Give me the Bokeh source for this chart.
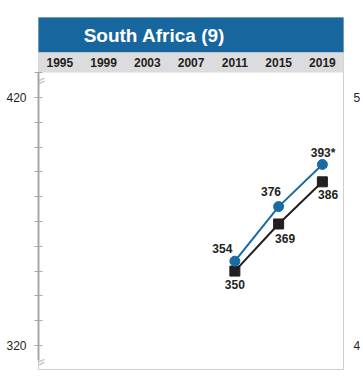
from bokeh.plotting import figure
from bokeh.models import Range1d, LinearAxis, FixedTicker, ColumnDataSource
from bokeh.embed import file_html
from bokeh.resources import INLINE
from bokeh.core.properties import value

# ---- data ----
title_text = "South Africa (9)"
years = [1995, 1999, 2003, 2007, 2011, 2015, 2019]
year_labels = ["1995", "1999", "2003", "2007", "2011", "2015", "2019"]
pt_years = [2011, 2015, 2019]
blue_vals = [354, 376, 393]
blue_labels = ["354", "376", "393*"]
black_vals = [350, 369, 386]
black_labels = ["350", "369", "386"]
y_ticks = [320, 330, 340, 350, 360, 370, 380, 390, 400, 410, 420, 430]
y_tick_text = {420: "420", 320: "320"}
right_tick_text = {420: "5", 320: "4"}   # clipped labels of the neighbouring panel

BLUE = "#1a6aa3"
HEAD = "#17679e"
BAND = "#dcdcde"
DARK = "#231f20"
FONT = "Liberation Sans"

x0, x1 = 1993.05, 2020.93
y0, y1 = 310.32, 452.26
head_bot, band_bot = 438.15, 430.08
PX_X = 11.05   # pixels per year
PX_Y = 2.48    # pixels per score point

p = figure(width=363, height=383, output_backend="svg", toolbar_location=None,
           x_range=Range1d(x0, x1), y_range=Range1d(y0, y1),
           x_axis_location=None, y_axis_location=None,
           min_border_left=38, min_border_right=17, min_border_top=17, min_border_bottom=14)
p.grid.visible = False
p.outline_line_color = "#cfcfcf"
p.outline_line_width = 1
p.background_fill_color = "white"
p.border_fill_color = "white"

# header and year band
p.quad(left=[1985], right=[2030], bottom=[head_bot], top=[460], fill_color=HEAD, line_color=None)
p.quad(left=[1985], right=[2030], bottom=[band_bot], top=[head_bot], fill_color=BAND, line_color=None)
p.text(x=[2003.64], y=[445.2], text=[title_text], text_color="white", text_font=value(FONT),
       text_font_size="19px", text_font_style="bold", text_align="center", text_baseline="middle")
p.text(x=years, y=[434.1] * len(years), text=year_labels, text_color=DARK, text_font=value(FONT),
       text_font_size="12px", text_font_style="bold", text_align="center", text_baseline="middle")

# axis break marks (offsets in pixels from the frame's left edge)
def brk(yc):
    xs, ys = [], []
    for off in (-1.5, 1.5):
        xs.append([x0 - 7 / PX_X, x0 + 6 / PX_X])
        ys.append([yc + (3 - off) / PX_Y, yc + (-3 - off) / PX_Y][::-1])
    return xs, ys
for yc in (426.0, 312.6):
    xs, ys = brk(yc)
    p.multi_line(xs=xs, ys=ys, line_color="#c8c8c8", line_width=1.5)

# y axis
yaxis = LinearAxis(ticker=FixedTicker(ticks=y_ticks), bounds=(313.9, 430),
                   major_label_overrides={t: y_tick_text.get(t, "") for t in y_ticks})
yaxis.axis_line_color = "#a8a8a8"
yaxis.axis_line_width = 2
yaxis.major_tick_line_color = "#a8a8a8"
yaxis.major_tick_in = 4
yaxis.major_tick_out = 4
yaxis.minor_tick_line_color = None
yaxis.major_label_standoff = 8
yaxis.major_label_text_font = FONT
yaxis.major_label_text_font_size = "12px"
yaxis.major_label_text_color = DARK
p.add_layout(yaxis, "left")

raxis = LinearAxis(ticker=FixedTicker(ticks=list(right_tick_text.keys())),
                   major_label_overrides=right_tick_text)
raxis.axis_line_color = None
raxis.major_tick_line_color = None
raxis.major_tick_in = 0
raxis.major_tick_out = 0
raxis.minor_tick_line_color = None
raxis.major_label_standoff = 10
raxis.major_label_text_font = FONT
raxis.major_label_text_font_size = "12px"
raxis.major_label_text_color = DARK
p.add_layout(raxis, "right")

# series
src_b = ColumnDataSource(dict(x=pt_years, y=blue_vals, t=blue_labels))
src_k = ColumnDataSource(dict(x=pt_years, y=black_vals, t=black_labels))
p.line("x", "y", source=src_k, line_color=DARK, line_width=2)
p.scatter("x", "y", source=src_k, marker="square", size=10, fill_color=DARK, line_color=DARK)
p.line("x", "y", source=src_b, line_color=BLUE, line_width=2)
p.scatter("x", "y", source=src_b, marker="circle", size=10, fill_color=BLUE, line_color=BLUE)

src_b.data["dx"] = [-12.5, -7.6, 0.7]
src_b.data["dy"] = [-13, -15, -11]
src_k.data["dx"] = [0, 6.5, 5.7]
src_k.data["dy"] = [13.6, 14.7, 13]
for s in (src_b, src_k):
    p.text("x", "y", text="t", source=s, x_offset="dx", y_offset="dy", text_color=DARK,
           text_font=value(FONT), text_font_size="12px", text_font_style="bold",
           text_align="center", text_baseline="middle")

open("out.html", "w").write(file_html(p, INLINE))
